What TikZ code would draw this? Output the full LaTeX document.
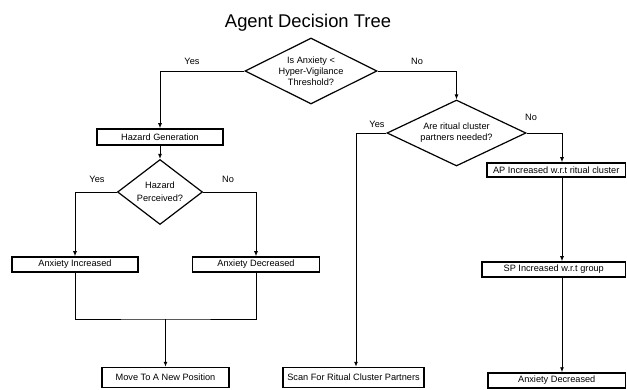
\documentclass[tikz,border=0pt]{standalone}
\usepackage{fontspec}
\setmainfont{Liberation Sans}
\usepackage{tikz}
\usetikzlibrary{arrows.meta,shapes.geometric,calc}

\begin{document}
\begin{tikzpicture}[x=1pt,y=-1pt,
  font=\fontsize{9.2}{11}\selectfont,
  box/.style={draw=black,line width=1.5pt,fill=white,inner sep=0pt,align=center},
  decision/.style={diamond,draw=black,line width=1.2pt,fill=white,inner sep=0pt,align=center,shape aspect=2},
  lbl/.style={font=\fontsize{9.2}{11}\selectfont},
  line/.style={draw=black,line width=.9pt},
  flow/.style={-{Latex[length=5pt,width=4pt]},draw=black,line width=.9pt}]

\useasboundingbox (0,0) rectangle (627,390);
\node[font=\fontsize{18.4}{22}\selectfont,anchor=base] (title) at (308,27.5) {Agent Decision Tree};

% left branch
\node[decision,minimum width=132,minimum height=66] (thresh) at (311,71)
  {Is Anxiety <\\Hyper-Vigilance\\Threshold?};
\node[box,minimum width=126,minimum height=16] (hazgen) at (160,137) {Hazard Generation};
\node[decision,minimum width=85,minimum height=65,shape aspect=1.3,
  font=\fontsize{9.2}{13}\selectfont] (perceived) at (160,192) {Hazard\\Perceived?};
\node[box,minimum width=126,minimum height=15] (anxinc) at (75,264.5) {Anxiety Increased};
\node[box,minimum width=127,minimum height=15] (anxdec) at (256,264.5) {Anxiety Decreased};
\coordinate (join) at (165.5,319);
\node[box,minimum width=127,minimum height=20] (move) at (165.5,377.5) {Move To A New Position};

% right branch
\node[decision,minimum width=139,minimum height=66] (partners) at (456.5,133)
  {Are ritual cluster\\partners needed?};
\node[box,minimum width=141,minimum height=20] (scan) at (353.5,377.5) {Scan For Ritual Cluster Partners};
\node[box,minimum width=138.5,minimum height=14] (apinc) at (556.25,170) {AP Increased w.r.t ritual cluster};
\node[box,minimum width=143.5,minimum height=15] (spinc) at (553.75,269.5) {SP Increased w.r.t group};
\node[box,minimum width=137.5,minimum height=15] (anxdecr) at (556.75,380.5) {Anxiety Decreased};
\coordinate (scancol) at (356,0);
\coordinate (rcol) at (562,0);

% labels
\node[lbl] (yesa) at (192,61) {Yes};
\node[lbl] (noa) at (417,61) {No};
\node[lbl] (yesh) at (97,179) {Yes};
\node[lbl] (noh) at (228,179) {No};
\node[lbl] (yesp) at (377,124) {Yes};
\node[lbl] (nop) at (531,117) {No};

% connectors
\draw[flow] (thresh.west) -| (hazgen.north);
\draw[flow] (thresh.east) -| (partners.north);
\draw[flow] (hazgen.south) -- (perceived.north);
\draw[flow] (perceived.west) -| (anxinc.north);
\draw[flow] (perceived.east) -| (anxdec.north);
\draw[line] (anxinc.south) |- (join) -| (anxdec.south);
\draw[flow] (join) -- (move.north);
\draw[flow] (partners.west) -| (scancol |- scan.north);
\draw[flow] (partners.east) -| (rcol |- apinc.north);
\draw[flow] (rcol |- apinc.south) -- (rcol |- spinc.north);
\draw[flow] (rcol |- spinc.south) -- (rcol |- anxdecr.north);

\end{tikzpicture}
\end{document}
